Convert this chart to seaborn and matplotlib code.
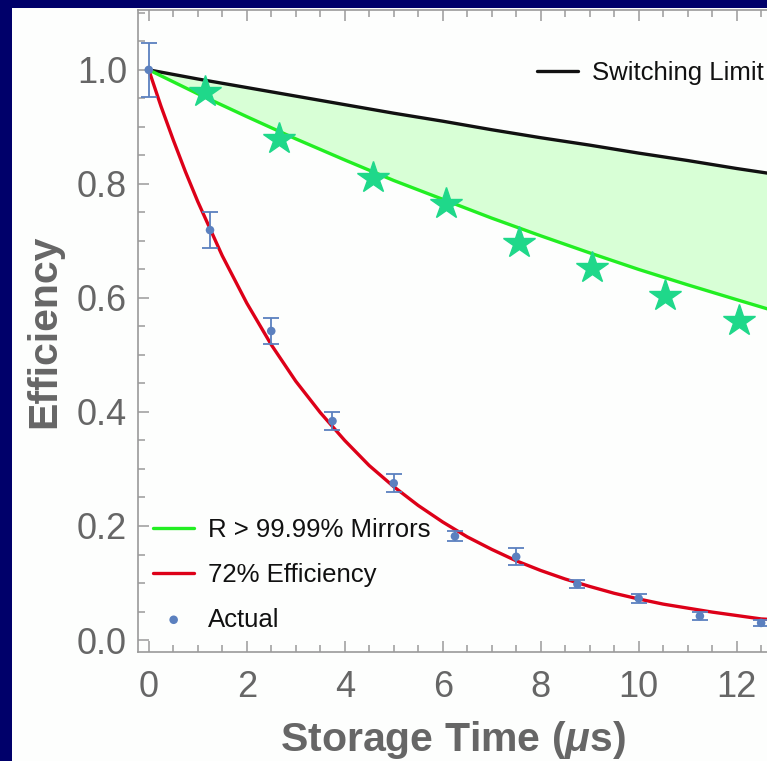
import numpy as np
import pandas as pd
import seaborn as sns
import matplotlib
matplotlib.use("Agg")
import matplotlib.pyplot as plt
from matplotlib.patches import Rectangle
from matplotlib.ticker import MultipleLocator

# ---- data ----
# theoretical curves
curve_t_coarse = [0, 1, 2, 3, 4, 5, 6, 7, 8, 9, 10, 11, 12, 12.7]
switching_limit = [1.000, 0.984, 0.969, 0.954, 0.939, 0.924, 0.910, 0.895, 0.881, 0.868, 0.854, 0.841, 0.827, 0.818]
mirrors_curve = [1.000, 0.958, 0.918, 0.879, 0.842, 0.806, 0.773, 0.740, 0.709, 0.679, 0.650, 0.623, 0.597, 0.579]

curve_t_fine = [0, 0.25, 0.5, 0.75, 1.0, 1.5, 2.0, 2.5, 3.0, 3.5, 4.0, 4.5, 5.0, 5.5, 6.0, 6.5,
                7.0, 7.5, 8.0, 8.5, 9.0, 9.5, 10.0, 10.5, 11.0, 11.5, 12.0, 12.5, 12.7]
efficiency_72 = [1.000, 0.936, 0.877, 0.821, 0.769, 0.674, 0.591, 0.518, 0.454, 0.399, 0.350, 0.306,
                 0.269, 0.236, 0.207, 0.181, 0.159, 0.139, 0.122, 0.107, 0.094, 0.082,
                 0.072, 0.063, 0.056, 0.049, 0.043, 0.037, 0.036]

# star markers (mirror-limited points)
star_t = [1.15, 2.65, 4.57, 6.06, 7.55, 9.04, 10.53, 12.04]
star_eff = [0.961, 0.879, 0.811, 0.765, 0.696, 0.653, 0.604, 0.560]

# measured data
actual_t = [0, 1.25, 2.5, 3.75, 5.0, 6.25, 7.5, 8.75, 10.0, 11.25, 12.5]
actual_eff = [1.000, 0.719, 0.542, 0.384, 0.275, 0.182, 0.146, 0.098, 0.073, 0.042, 0.030]
actual_err = [0.047, 0.032, 0.023, 0.016, 0.016, 0.009, 0.015, 0.007, 0.008, 0.007, 0.005]

labels = ["Switching Limit", "R > 99.99% Mirrors", "72% Efficiency", "Actual"]

# ---- styling ----
sns.set_theme(style="white")
plt.rcParams["font.family"] = ["Liberation Sans", "DejaVu Sans"]
plt.rcParams["mathtext.fontset"] = "custom"
plt.rcParams["mathtext.it"] = "Liberation Sans:italic:bold"
plt.rcParams["mathtext.rm"] = "Liberation Sans:bold"

NAVY = "#00006a"
GRAY = "#666666"
AXIS = "#9a9a9a"
BLACK = "#111111"
GREEN = "#22ee22"
FILL = "#d8ffd6"
RED = "#dd0018"
BLUE = "#5b80bf"
STAR = "#1fd88a"

fig = plt.figure(figsize=(7.67, 7.61), dpi=100, facecolor=NAVY)
fig.patches.append(Rectangle((12 / 767, 0), 1, 1 - 8 / 761, transform=fig.transFigure,
                             facecolor="#fdfefd", edgecolor="none", zorder=-10))

ax = fig.add_axes([138 / 767, 109 / 761, 629 / 767, 642 / 761])
ax.set_zorder(5)
ax.set_facecolor("none")

df_coarse = pd.DataFrame({"t": curve_t_coarse, "sw": switching_limit, "mir": mirrors_curve})
df_fine = pd.DataFrame({"t": curve_t_fine, "eff": efficiency_72})
df_star = pd.DataFrame({"t": star_t, "eff": star_eff})
df_act = pd.DataFrame({"t": actual_t, "eff": actual_eff, "err": actual_err})

ax.fill_between(df_coarse["t"], df_coarse["mir"], df_coarse["sw"], color=FILL, lw=0, zorder=1)
sns.lineplot(data=df_coarse, x="t", y="sw", ax=ax, color=BLACK, lw=2.4, label=labels[0], zorder=3)
sns.lineplot(data=df_coarse, x="t", y="mir", ax=ax, color=GREEN, lw=2.4, label=labels[1], zorder=3)
sns.lineplot(data=df_fine, x="t", y="eff", ax=ax, color=RED, lw=2.4, label=labels[2], zorder=4)
ax.plot(df_star["t"], df_star["eff"], ls="none", marker="*", ms=24, color=STAR,
        mec=STAR, zorder=5)
ax.errorbar(df_act["t"], df_act["eff"], yerr=df_act["err"], fmt="none", ecolor=BLUE,
            elinewidth=1.3, capsize=5.5, capthick=1.3, zorder=5)
sns.scatterplot(data=df_act, x="t", y="eff", ax=ax, color=BLUE, s=38, edgecolor="none",
                label=labels[3], zorder=6)

ax.set_xlim(-0.22, 12.62)
ax.set_ylim(-0.021, 1.105)

ax.xaxis.set_major_locator(MultipleLocator(2))
ax.xaxis.set_minor_locator(MultipleLocator(0.5))
ax.yaxis.set_major_locator(MultipleLocator(0.2))
ax.yaxis.set_minor_locator(MultipleLocator(0.05))
ax.set_xticks(np.arange(0, 13, 2))
ax.set_xticklabels([str(v) for v in range(0, 13, 2)])
ax.set_yticks([0.0, 0.2, 0.4, 0.6, 0.8, 1.0])
ax.set_yticklabels(["0.0", "0.2", "0.4", "0.6", "0.8", "1.0"])

ax.tick_params(which="both", direction="in", top=True, right=False, bottom=True, left=True,
               color=AXIS, width=1.1)
ax.tick_params(which="major", length=8)
ax.tick_params(which="minor", length=5)
ax.tick_params(axis="x", labelsize=26, labelcolor=GRAY, pad=13)
ax.tick_params(axis="y", labelsize=26, labelcolor=GRAY, pad=8)

for side in ["left", "bottom", "top"]:
    ax.spines[side].set_color(AXIS)
    ax.spines[side].set_linewidth(1.2)
ax.spines["right"].set_visible(False)

ax.set_xlabel("Storage Time ($\\mu$s)", fontsize=29.5, fontweight="bold", color=GRAY, labelpad=10)
ax.set_ylabel("Efficiency", fontsize=29.5, fontweight="bold", color=GRAY, labelpad=10)

handles, labs = ax.get_legend_handles_labels()
hmap = dict(zip(labs, handles))
if ax.get_legend():
    ax.get_legend().remove()

leg1 = ax.legend([hmap[labels[0]]], [labels[0]], loc="center left",
                 bbox_to_anchor=(0.634, 0.902), frameon=False, fontsize=18.5,
                 handlelength=1.6, handletextpad=0.55, borderpad=0, borderaxespad=0)
for t in leg1.get_texts():
    t.set_color(BLACK)
ax.add_artist(leg1)
leg2 = ax.legend([hmap[l] for l in labels[1:]], labels[1:], loc="center left",
                 bbox_to_anchor=(0.024, 0.12), frameon=False, fontsize=18.5,
                 handlelength=1.6, handletextpad=0.55, labelspacing=0.8,
                 borderpad=0, borderaxespad=0)
for t in leg2.get_texts():
    t.set_color(BLACK)

fig.savefig("out.png", dpi=100, facecolor=NAVY)
